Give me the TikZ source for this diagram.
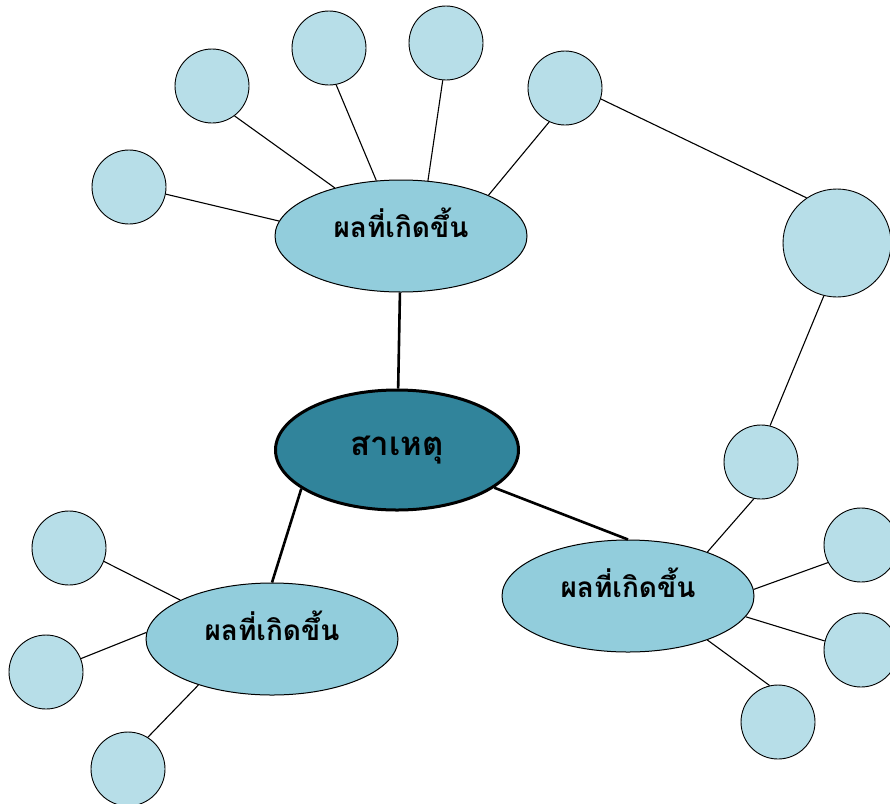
\documentclass[tikz,border=0pt]{standalone}
\usepackage{fontspec}
\newfontfamily\thaifont[Script=Thai]{Loma}
\usetikzlibrary{shapes.geometric}

\definecolor{causefill}{HTML}{31849B}
\definecolor{effectfill}{HTML}{92CDDC}
\definecolor{leaffill}{HTML}{B7DEE8}

\begin{document}
\begin{tikzpicture}[
        x=1pt, y=-1pt,
        cause/.style={ellipse, draw, line width=3pt, fill=causefill, minimum width=243pt, minimum height=120pt, inner sep=0pt, font=\thaifont\bfseries\fontsize{33}{38}\selectfont},
        effect/.style={ellipse, draw, line width=1pt, fill=effectfill, minimum width=252pt, minimum height=112pt, inner sep=0pt, text height=8pt, text depth=6pt, font=\thaifont\bfseries\fontsize{28}{32}\selectfont},
        leaf/.style={circle, draw, line width=0.9pt, fill=leaffill, minimum size=74pt, inner sep=0pt},
        link/.style={line width=1.1pt},
        trunk/.style={line width=2.6pt}
    ]
    \useasboundingbox (0,0) rectangle (890,803);

    % Cause and effects
    \node[cause] (C) at (397, 450) {สาเหตุ};
    \node[effect] (E1) at (401, 236) {ผลที่เกิดขึ้น};
    \node[effect] (E2) at (272, 639) {ผลที่เกิดขึ้น};
    \node[effect] (E3) at (628, 596) {ผลที่เกิดขึ้น};

    % Leaves
    \foreach \n/\x/\y in {a/129/187, b/212/86, c/329/48, d/446/43, e/565/88,
                          f/761/462, g/69/548, h/46/672, i/128/769,
                          j/861/545, k/861/650, l/778/722} {
        \node[leaf] (\n) at (\x, \y) {};
    }
    \node[leaf, minimum size=108pt] (big) at (837, 243) {};

    % Trunk connections
    \draw[trunk] (E1) -- (C);
    \draw[trunk] (C.202) -- (E2.north);
    \draw[trunk] (C) -- (E3.north);

    % Effect 1 branches
    \foreach \n/\a/\b in {a/173/349, b/144/307, c/114/281, d/64/265, e/25/245} {
        \draw[link] (E1.\a) -- (\n.\b);
    }
    \draw[link] (e.343) -- (big.124);
    \draw[link] (big.256) -- (f.76);

    % Effect 2 branches
    \foreach \n/\a/\b in {g/157/339, h/177/21, i/212/58} {
        \draw[link] (E2.\a) -- (\n.\b);
    }

    % Effect 3 branches
    \foreach \n/\a/\b in {f/29/259, j/3/208, k/350/166, l/331/103} {
        \draw[link] (E3.\a) -- (\n.\b);
    }

\end{tikzpicture}
\end{document}
